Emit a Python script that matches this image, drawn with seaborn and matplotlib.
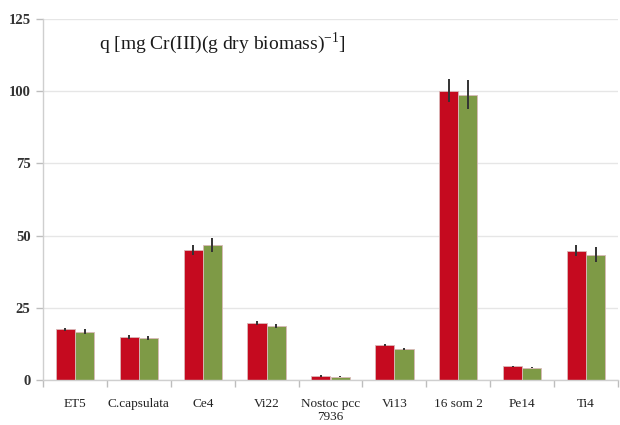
import matplotlib
matplotlib.use("Agg")
import matplotlib.pyplot as plt
import numpy as np
import pandas as pd
import seaborn as sns

strains = ["ET5", "C.capsulata", "Ce4", "Vi22", "Nostoc pcc\n7936",
           "Vi13", "16 som 2", "Pe14", "Ti4"]
series_names = ["A", "B"]
q_a = [17.5, 14.9, 45.1, 19.8, 1.4, 12.1, 100.1, 4.7, 44.8]
q_b = [16.7, 14.6, 46.8, 18.6, 1.1, 10.7, 98.8, 4.3, 43.3]
err_a = [0.6, 0.6, 1.7, 0.6, 0.2, 0.5, 4.0, 0.3, 2.0]
err_b = [0.8, 0.6, 2.5, 0.7, 0.2, 0.3, 5.0, 0.3, 2.6]
y_ticks = [0, 25, 50, 75, 100, 125]
colors = ["#C50A1F", "#7E9A46"]

df = pd.DataFrame({
    "strain": strains * 2,
    "series": [series_names[0]] * len(strains) + [series_names[1]] * len(strains),
    "q": q_a + q_b,
})

sns.set_theme(style="white")
plt.rcParams["font.family"] = ["Liberation Serif", "DejaVu Serif"]

fig = plt.figure(figsize=(6.2, 4.25), dpi=100)
ax = fig.add_axes([43 / 620, 1 - 380 / 425, 575 / 620, (380 - 19) / 425])

sns.barplot(data=df, x="strain", y="q", hue="series", order=strains,
            hue_order=series_names, palette=colors, width=0.6,
            errorbar=None, saturation=1, legend=False,
            edgecolor="#d9b8b8", linewidth=0.6, ax=ax)

for cont, errs in zip(ax.containers, [err_a, err_b]):
    xs = [p.get_x() + p.get_width() / 2 for p in cont.patches]
    hs = [p.get_height() for p in cont.patches]
    ax.errorbar(xs, hs, yerr=errs, fmt="none", ecolor="#333333",
                elinewidth=1.4, capsize=0, zorder=5)

ax.set_ylim(0, 125)
ax.set_xlim(-0.5, 8.41)
ax.set_yticks(y_ticks)
ax.set_yticklabels([str(v) for v in y_ticks], fontsize=10.5,
                   fontweight="bold", color="#333333")
ax.yaxis.grid(True, color="#e6e6e6", linewidth=1)
ax.set_axisbelow(True)

ax.set_xticks(range(len(strains)))
ax.set_xticklabels(strains, fontsize=9.5, linespacing=1.15, color="#222222")
ax.set_xticks(np.arange(-0.5, len(strains), 1), minor=True)
ax.tick_params(axis="x", which="major", length=0, pad=13)
ax.tick_params(axis="x", which="minor", length=5, color="#bdbdbd", width=1,
               direction="out", bottom=True)
ax.tick_params(axis="y", length=5, color="#bdbdbd", width=1, left=True,
               direction="out", pad=4)

ax.set_xlabel("")
ax.set_ylabel("")
for side in ["top", "right"]:
    ax.spines[side].set_visible(False)
for side in ["left", "bottom"]:
    ax.spines[side].set_color("#cfcfcf")
    ax.spines[side].set_linewidth(1)

ax.text(0.38, 116.7, "q [mg Cr(III)(g dry biomass)$^{\\mathregular{-1}}$]",
        fontsize=14, ha="left", va="center", color="#1a1a1a")

fig.savefig("out.png", dpi=100)
